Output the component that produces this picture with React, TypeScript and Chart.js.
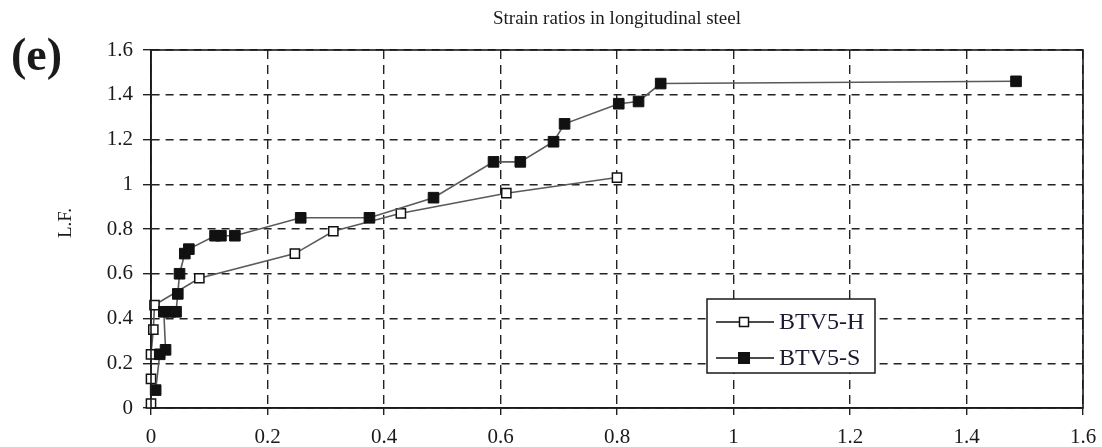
import React, { useEffect, useRef } from "react";
import { Chart, registerables } from "chart.js";

Chart.register(...registerables);

const titleText = "Strain ratios in longitudinal steel";
const panelLabel = "(e)";
const yAxisTitle = "L.F.";

const xTickLabels = ["0", "0.2", "0.4", "0.6", "0.8", "1", "1.2", "1.4", "1.6"];
const yTickLabels = ["0", "0.2", "0.4", "0.6", "0.8", "1", "1.2", "1.4", "1.6"];

const seriesHName = "BTV5-H";
const seriesHX = [0, 0, 0, 0.004, 0.006, 0.083, 0.247, 0.313, 0.429, 0.61, 0.8];
const seriesHY = [0.02, 0.13, 0.24, 0.35, 0.46, 0.58, 0.69, 0.79, 0.87, 0.96, 1.03];

const seriesSName = "BTV5-S";
const seriesSX = [0.008, 0.015, 0.025, 0.022, 0.033, 0.043, 0.046, 0.049, 0.058, 0.065, 0.11, 0.12, 0.144, 0.257, 0.375, 0.485, 0.588, 0.634, 0.691, 0.71, 0.803, 0.837, 0.875, 1.485];
const seriesSY = [0.08, 0.24, 0.26, 0.43, 0.43, 0.43, 0.51, 0.6, 0.69, 0.71, 0.77, 0.77, 0.77, 0.85, 0.85, 0.94, 1.1, 1.1, 1.19, 1.27, 1.36, 1.37, 1.45, 1.46];

const SERIF = "'Liberation Serif', 'Times New Roman', serif";

const framePlugin = {
  id: "framePlugin",
  beforeDraw(chart: any) {
    const ctx = chart.ctx;
    ctx.save();
    ctx.fillStyle = "#ffffff";
    ctx.fillRect(0, 0, chart.width, chart.height);
    ctx.restore();
  },
  afterDraw(chart: any) {
    const ctx = chart.ctx;
    const ca = chart.chartArea;
    ctx.save();
    // frame
    ctx.strokeStyle = "#1a1a1a";
    ctx.lineWidth = 1.6;
    ctx.setLineDash([]);
    ctx.strokeRect(ca.left, ca.top, ca.right - ca.left, ca.bottom - ca.top);

    // title
    ctx.fillStyle = "#1a1a1a";
    ctx.font = `19px ${SERIF}`;
    ctx.textAlign = "center";
    ctx.textBaseline = "middle";
    ctx.fillText(titleText, (ca.left + ca.right) / 2, 19);

    // panel label
    ctx.font = `bold 46px ${SERIF}`;
    ctx.textAlign = "left";
    ctx.textBaseline = "middle";
    ctx.fillText(panelLabel, 11, 58);

    // y axis title
    ctx.save();
    ctx.translate(66, (ca.top + ca.bottom) / 2 - 6);
    ctx.rotate(-Math.PI / 2);
    ctx.font = `19px ${SERIF}`;
    ctx.textAlign = "center";
    ctx.textBaseline = "middle";
    ctx.fillText(yAxisTitle, 0, 0);
    ctx.restore();

    // legend
    const bx = ca.left + 556;
    const by = ca.top + 249;
    const bw = 168;
    const bh = 74;
    ctx.fillStyle = "#ffffff";
    ctx.fillRect(bx, by, bw, bh);
    ctx.strokeStyle = "#1a1a1a";
    ctx.lineWidth = 1.5;
    ctx.strokeRect(bx, by, bw, bh);
    const entries = chart.data.datasets;
    entries.forEach((ds: any, i: number) => {
      const ey = by + 23 + i * 36;
      ctx.strokeStyle = "#111";
      ctx.lineWidth = 1.6;
      ctx.beginPath();
      ctx.moveTo(bx + 9, ey);
      ctx.lineTo(bx + 67, ey);
      ctx.stroke();
      const s = i === 0 ? 9 : 10.5;
      const mx = bx + 37;
      ctx.fillStyle = ds.pointBackgroundColor;
      ctx.fillRect(mx - s / 2, ey - s / 2, s, s);
      ctx.lineWidth = 1.5;
      ctx.strokeStyle = "#111";
      ctx.strokeRect(mx - s / 2, ey - s / 2, s, s);
      ctx.fillStyle = "#1a1a2e";
      ctx.font = `24px ${SERIF}`;
      ctx.textAlign = "left";
      ctx.textBaseline = "middle";
      ctx.fillText(ds.label, bx + 72, ey + 1);
    });
    ctx.restore();
  },
};

export default function App() {
  const canvasRef = useRef<HTMLCanvasElement | null>(null);

  useEffect(() => {
    if (!canvasRef.current) return;
    const hData = seriesHX.map((x, i) => ({ x, y: seriesHY[i] }));
    const sData = seriesSX.map((x, i) => ({ x, y: seriesSY[i] }));
    const chart = new Chart(canvasRef.current, {
      type: "scatter",
      data: {
        datasets: [
          {
            label: seriesHName,
            data: hData,
            showLine: true,
            borderColor: "#5a5a5a",
            borderWidth: 1.6,
            pointStyle: "rect",
            pointRadius: 6.5,
            pointBackgroundColor: "#ffffff",
            pointBorderColor: "#111111",
            pointBorderWidth: 1.5,
            clip: false,
            order: 1,
          },
          {
            label: seriesSName,
            data: sData,
            showLine: true,
            borderColor: "#5a5a5a",
            borderWidth: 1.6,
            pointStyle: "rect",
            pointRadius: 7.5,
            pointBackgroundColor: "#111111",
            pointBorderColor: "#111111",
            pointBorderWidth: 1,
            clip: false,
            order: 0,
          },
        ],
      },
      options: {
        animation: false,
        responsive: false,
        devicePixelRatio: 1,
        layout: { padding: { top: 50, right: 19, left: 0, bottom: 0 } },
        plugins: {
          legend: { display: false },
          tooltip: { enabled: false },
          title: { display: false },
        },
        scales: {
          x: {
            type: "linear",
            min: 0,
            max: 1.6,
            afterFit: (scale: any) => {
              scale.height = 39;
              scale.paddingLeft = 0;
              scale.paddingRight = 0;
            },
            afterBuildTicks: (scale: any) => {
              scale.ticks = xTickLabels.map((_, i) => ({ value: i * 0.2 }));
            },
            ticks: {
              callback: (_v: any, i: number) => xTickLabels[i],
              font: { family: SERIF, size: 21 },
              color: "#1a1a1a",
              padding: 10,
              maxRotation: 0,
              autoSkip: false,
            },
            grid: {
              color: "#222",
              lineWidth: 1.4,
              tickLength: 7,
              tickColor: "#222",
            },
            border: { display: true, color: "#1a1a1a", width: 1.6, dash: [9, 6] },
          },
          y: {
            type: "linear",
            min: 0,
            max: 1.6,
            afterFit: (scale: any) => {
              scale.width = 151;
            },
            afterBuildTicks: (scale: any) => {
              scale.ticks = yTickLabels.map((_, i) => ({ value: i * 0.2 }));
            },
            ticks: {
              callback: (_v: any, i: number) => yTickLabels[i],
              font: { family: SERIF, size: 21 },
              color: "#1a1a1a",
              padding: 10,
              autoSkip: false,
            },
            grid: {
              color: "#222",
              lineWidth: 1.4,
              tickLength: 8,
              tickColor: "#222",
            },
            border: { display: true, color: "#1a1a1a", width: 1.6, dash: [8, 6] },
          },
        },
      },
      plugins: [framePlugin],
    });
    return () => chart.destroy();
  }, []);

  return (
    <div style={{ position: "absolute", left: 0, top: 0, width: 1102, height: 447, background: "#fff" }}>
      <canvas ref={canvasRef} width={1102} height={447} style={{ width: 1102, height: 447, display: "block" }} />
    </div>
  );
}
